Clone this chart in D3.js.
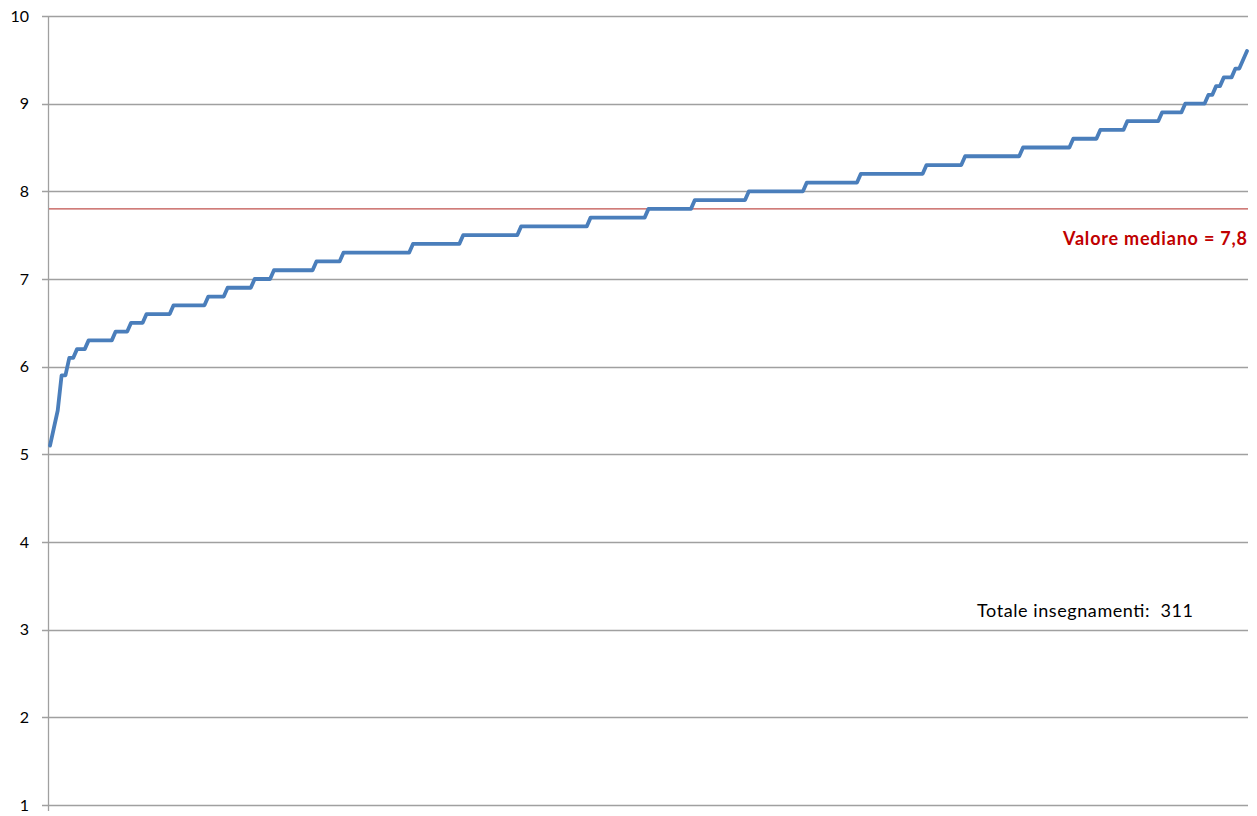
<!DOCTYPE html>
<html>
<head>
<meta charset="utf-8">
<script src="https://cdn.jsdelivr.net/npm/d3@7"></script>
<style>
  html, body { margin: 0; padding: 0; background: #fff; }
  svg { display: block; }
  text { font-family: Lato, "Liberation Sans", sans-serif; }
</style>
</head>
<body>
<svg id="chart" width="1257" height="816"></svg>
<script>
// ---- data ----
const yTicks = [1, 2, 3, 4, 5, 6, 7, 8, 9, 10];
const medianValue = 7.8;
const medianLabel = "Valore mediano = 7,8";
const totalLabel = "Totale insegnamenti:  311";
// sorted evaluation values, one per course (311)
const values = [
  5.1,
  5.3,
  5.5,
  5.9, 5.9,
  6.1, 6.1,
  6.2, 6.2, 6.2,
  6.3, 6.3, 6.3, 6.3, 6.3, 6.3, 6.3,
  6.4, 6.4, 6.4, 6.4,
  6.5, 6.5, 6.5, 6.5,
  6.6, 6.6, 6.6, 6.6, 6.6, 6.6, 6.6,
  6.7, 6.7, 6.7, 6.7, 6.7, 6.7, 6.7, 6.7, 6.7,
  6.8, 6.8, 6.8, 6.8, 6.8,
  6.9, 6.9, 6.9, 6.9, 6.9, 6.9, 6.9,
  7.0, 7.0, 7.0, 7.0, 7.0,
  7.1, 7.1, 7.1, 7.1, 7.1, 7.1, 7.1, 7.1, 7.1, 7.1, 7.1,
  7.2, 7.2, 7.2, 7.2, 7.2, 7.2, 7.2,
  7.3, 7.3, 7.3, 7.3, 7.3, 7.3, 7.3, 7.3, 7.3, 7.3, 7.3, 7.3, 7.3, 7.3, 7.3, 7.3, 7.3, 7.3,
  7.4, 7.4, 7.4, 7.4, 7.4, 7.4, 7.4, 7.4, 7.4, 7.4, 7.4, 7.4, 7.4,
  7.5, 7.5, 7.5, 7.5, 7.5, 7.5, 7.5, 7.5, 7.5, 7.5, 7.5, 7.5, 7.5, 7.5, 7.5,
  7.6, 7.6, 7.6, 7.6, 7.6, 7.6, 7.6, 7.6, 7.6, 7.6, 7.6, 7.6, 7.6, 7.6, 7.6, 7.6, 7.6, 7.6,
  7.7, 7.7, 7.7, 7.7, 7.7, 7.7, 7.7, 7.7, 7.7, 7.7, 7.7, 7.7, 7.7, 7.7, 7.7,
  7.8, 7.8, 7.8, 7.8, 7.8, 7.8, 7.8, 7.8, 7.8, 7.8, 7.8, 7.8,
  7.9, 7.9, 7.9, 7.9, 7.9, 7.9, 7.9, 7.9, 7.9, 7.9, 7.9, 7.9, 7.9, 7.9,
  8.0, 8.0, 8.0, 8.0, 8.0, 8.0, 8.0, 8.0, 8.0, 8.0, 8.0, 8.0, 8.0, 8.0, 8.0,
  8.1, 8.1, 8.1, 8.1, 8.1, 8.1, 8.1, 8.1, 8.1, 8.1, 8.1, 8.1, 8.1, 8.1,
  8.2, 8.2, 8.2, 8.2, 8.2, 8.2, 8.2, 8.2, 8.2, 8.2, 8.2, 8.2, 8.2, 8.2, 8.2, 8.2, 8.2,
  8.3, 8.3, 8.3, 8.3, 8.3, 8.3, 8.3, 8.3, 8.3, 8.3,
  8.4, 8.4, 8.4, 8.4, 8.4, 8.4, 8.4, 8.4, 8.4, 8.4, 8.4, 8.4, 8.4, 8.4, 8.4,
  8.5, 8.5, 8.5, 8.5, 8.5, 8.5, 8.5, 8.5, 8.5, 8.5, 8.5, 8.5, 8.5,
  8.6, 8.6, 8.6, 8.6, 8.6, 8.6, 8.6,
  8.7, 8.7, 8.7, 8.7, 8.7, 8.7, 8.7,
  8.8, 8.8, 8.8, 8.8, 8.8, 8.8, 8.8, 8.8, 8.8,
  8.9, 8.9, 8.9, 8.9, 8.9, 8.9,
  9.0, 9.0, 9.0, 9.0, 9.0, 9.0,
  9.1, 9.1,
  9.2, 9.2,
  9.3, 9.3, 9.3,
  9.4, 9.4,
  9.5,
  9.6
];

// ---- layout ----
const plot = { left: 48, right: 1248, top: 16, bottom: 805 };
const svg = d3.select("#chart");

const x = d3.scaleLinear().domain([0, values.length - 1]).range([plot.left + 2, plot.right - 1]);
const y = d3.scaleLinear().domain([1, 10]).range([plot.bottom, plot.top]);

// gridlines (with small outside tick marks)
svg.append("g").selectAll("line").data(yTicks).join("line")
  .attr("x1", plot.left - 6).attr("x2", plot.right)
  .attr("y1", d => Math.round(y(d)) + 0.5).attr("y2", d => Math.round(y(d)) + 0.5)
  .attr("stroke", "#a0a0a0").attr("stroke-width", 1.3);

// vertical axis line
svg.append("line")
  .attr("x1", plot.left + 0.5).attr("x2", plot.left + 0.5)
  .attr("y1", plot.top).attr("y2", plot.bottom + 6)
  .attr("stroke", "#a0a0a0").attr("stroke-width", 1.3);

// tick labels
svg.append("g").selectAll("text").data(yTicks).join("text")
  .attr("x", 29).attr("y", d => y(d))
  .attr("dy", "0.36em")
  .attr("text-anchor", "end")
  .attr("font-size", 16).attr("fill", "#000")
  .text(d => d);

// median line
svg.append("line")
  .attr("x1", plot.left + 1).attr("x2", plot.right)
  .attr("y1", y(medianValue)).attr("y2", y(medianValue))
  .attr("stroke", "#c0504d").attr("stroke-width", 1.2);

// data line
svg.append("path")
  .datum(values)
  .attr("fill", "none")
  .attr("stroke", "#4a7ebb")
  .attr("stroke-width", 3.8)
  .attr("stroke-linejoin", "round")
  .attr("stroke-linecap", "round")
  .attr("d", d3.line().x((d, i) => x(i)).y(d => y(d)));

// annotations
svg.append("text")
  .attr("x", 1063).attr("y", 245)
  .attr("font-size", 18).attr("font-weight", "bold")
  .attr("fill", "#c00000")
  .attr("textLength", 184).attr("lengthAdjust", "spacing")
  .text(medianLabel);

svg.append("text")
  .attr("x", 977).attr("y", 617)
  .attr("font-size", 18).attr("fill", "#000")
  .attr("textLength", 216).attr("lengthAdjust", "spacing")
  .style("white-space", "pre")
  .text(totalLabel);
</script>
</body>
</html>
